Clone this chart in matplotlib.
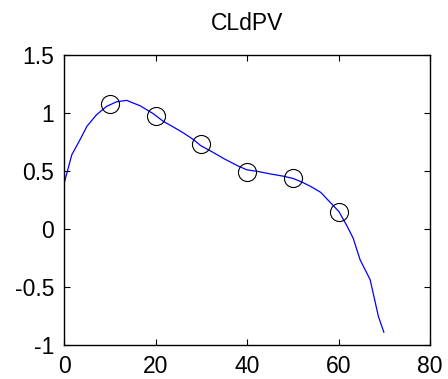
import matplotlib
matplotlib.use('Agg')
import matplotlib.pyplot as plt

plt.rcParams['font.family'] = ['Liberation Sans', 'DejaVu Sans']

# blue curve
curve_x = [0, 1.7, 3.5, 5.0, 7.1, 9.3, 11.5, 13.7, 15.1, 16.6, 19.5, 21.7, 23.9,
           26.1, 28.3, 29.9, 32.6, 35.0, 37.9, 39.9, 42.2, 45.2, 48.1, 50.0,
           51.7, 53.9, 56.1, 58.3, 60.1, 61.9, 63.2, 64.7, 65.8, 66.9, 68.7, 69.9]
curve_y = [0.39, 0.64, 0.77, 0.885, 0.985, 1.057, 1.097, 1.109, 1.086, 1.063,
           0.994, 0.928, 0.879, 0.828, 0.77, 0.718, 0.66, 0.605, 0.546, 0.511,
           0.497, 0.474, 0.454, 0.436, 0.41, 0.367, 0.316, 0.224, 0.149, 0.022,
           -0.08, -0.265, -0.351, -0.437, -0.753, -0.89]

# circle markers
pts_x = [10, 20, 30, 40, 50, 60]
pts_y = [1.078, 0.974, 0.73, 0.494, 0.442, 0.147]

fig = plt.figure(figsize=(4.48, 3.79), dpi=100)
ax = fig.add_axes([0.1429, 0.0897, 0.8171, 0.7652])

ax.plot(curve_x, curve_y, color='#0000ff', lw=0.9)
ax.plot(pts_x, pts_y, 'o', ms=13, mfc='none', mec='black', mew=0.8)

ax.set_xlim(0, 80)
ax.set_ylim(-1, 1.5)
ax.set_xticks([0, 20, 40, 60, 80])
ax.set_yticks([-1, -0.5, 0, 0.5, 1, 1.5])
ax.set_xticklabels(['0', '20', '40', '60', '80'])
ax.set_yticklabels(['-1', '-0.5', '0', '0.5', '1', '1.5'])
ax.tick_params(direction='in', top=True, right=True, length=4, width=0.8,
               labelsize=16.5, pad=7)
for s in ax.spines.values():
    s.set_linewidth(1.0)
ax.set_title('CLdPV', fontsize=16.5, pad=18)

plt.savefig('out.png', dpi=100)
